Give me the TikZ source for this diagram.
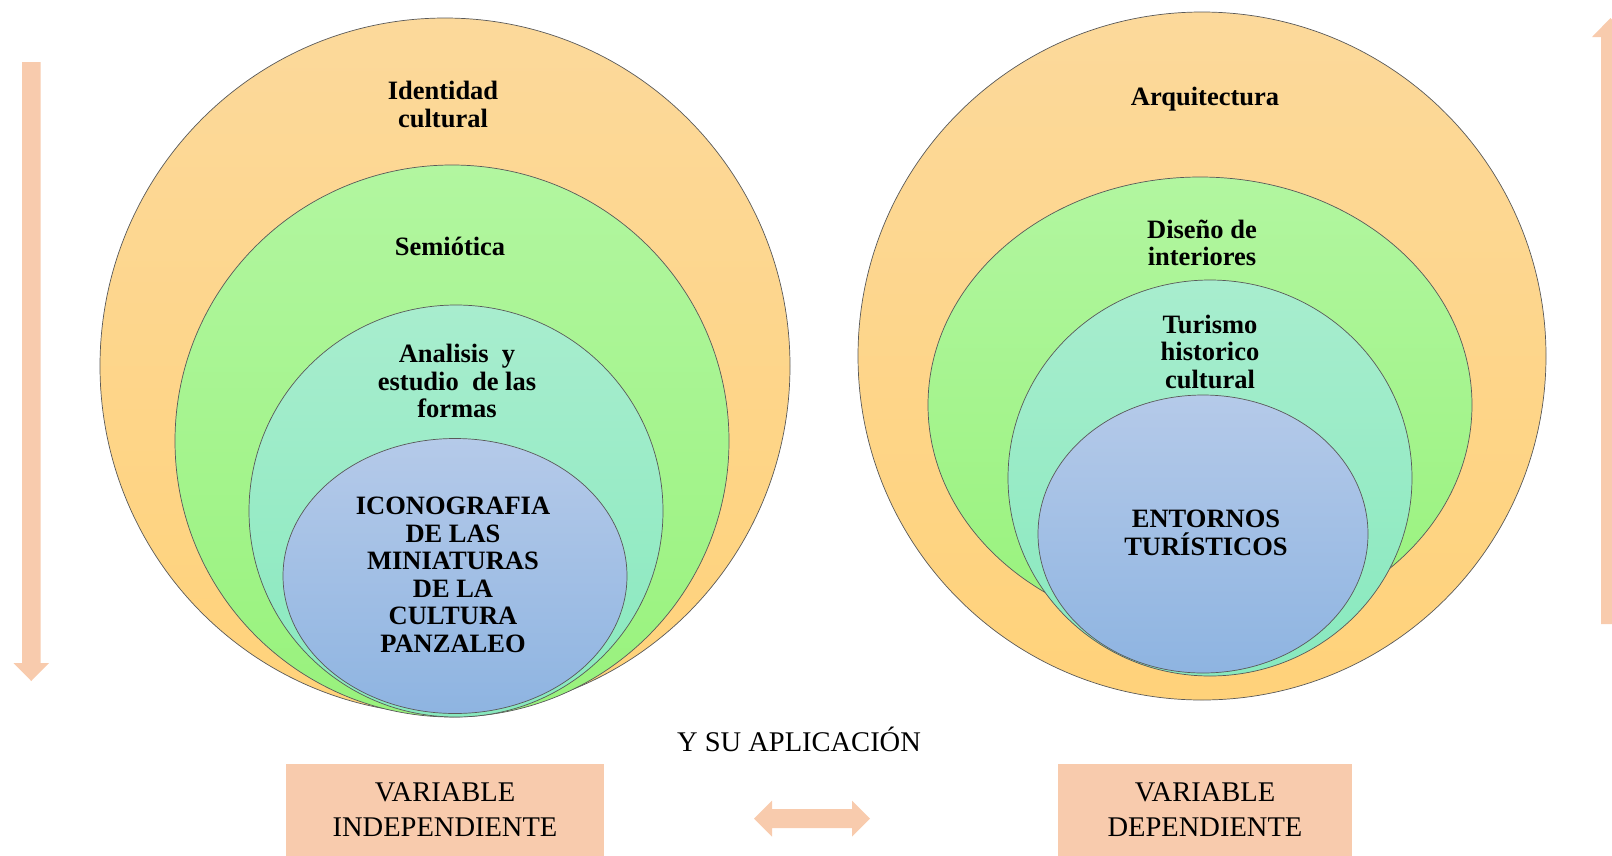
\documentclass[tikz,border=0pt]{standalone}
\usepackage{fontspec}
\setmainfont{Liberation Serif}
\usepackage{xcolor}
\usepackage{tikz}
\definecolor{peach}{HTML}{F8CBAD}
\definecolor{orange_top}{HTML}{FCD99B}
\definecolor{orange_bot}{HTML}{FFD27A}
\definecolor{green_top}{HTML}{B2F6A0}
\definecolor{green_bot}{HTML}{98F27C}
\definecolor{teal_top}{HTML}{A8EDCE}
\definecolor{teal_bot}{HTML}{88E9BE}
\definecolor{blue_top}{HTML}{B5CAE9}
\definecolor{blue_bot}{HTML}{8EB4E1}
\tikzset{
    ring/.style={draw=black!65, line width=0.7pt},
    ringtext/.style={font=\fontsize{26.5}{27.5}\selectfont\bfseries, align=center, inner sep=0pt},
    vartext/.style={font=\fontsize{28.5}{35}\selectfont, align=center, inner sep=0pt},
    varbox/.style={vartext, fill=peach},
}

\begin{document}
\begin{tikzpicture}[
                x=1pt,
                y=-1pt,
                line cap=round,
                line join=round,
            ]
            \useasboundingbox (0,0) rectangle (1612,855);
            \clip (0,0) rectangle (1612,855);

            % Left set of circles
            \draw[ring, top color=orange_top, bottom color=orange_bot] (445,366) ellipse [x radius=345, y radius=348];
            \draw[ring, top color=green_top, bottom color=green_bot] (452,441) ellipse [x radius=277, y radius=276];
            \draw[ring, top color=teal_top, bottom color=teal_bot] (456,511) ellipse [x radius=207, y radius=206];
            \draw[ring, top color=blue_top, bottom color=blue_bot] (455,576) ellipse [x radius=172, y radius=137.5];

            % Right set of circles
            \draw[ring, top color=orange_top, bottom color=orange_bot] (1202,356) ellipse [x radius=344, y radius=344];
            \draw[ring, top color=green_top, bottom color=green_bot] (1200,405) ellipse [x radius=272, y radius=228];
            \draw[ring, top color=teal_top, bottom color=teal_bot] (1210,478) ellipse [x radius=202, y radius=198];
            \draw[ring, top color=blue_top, bottom color=blue_bot] (1203,534) ellipse [x radius=165, y radius=139];

            % Labels of the left circles
            \node[ringtext] (identidad) at (443,104.5) {Identidad\\cultural};
            \node[ringtext, anchor=base] (semiotica) at (450,255) {Semiótica};
            \node[ringtext] (analisis) at (457,381) {Analisis~~y\\estudio~~de las\\formas};
            \node[ringtext] (iconografia) at (453,575) {ICONOGRAFIA\\DE LAS\\MINIATURAS\\DE LA\\CULTURA\\PANZALEO};

            % Labels of the right circles
            \node[ringtext, anchor=base] (arquitectura) at (1205,105) {Arquitectura};
            \node[ringtext] (diseno) at (1202,243) {Diseño de\\interiores};
            \node[ringtext] (turismo) at (1210,351.5) {Turismo\\historico\\cultural};
            \node[ringtext] (entornos) at (1206,533) {ENTORNOS\\TURÍSTICOS};

            % Side arrows
            \fill[peach] (22,62) -- (40.5,62) -- (40.5,663) -- (49,663) -- (31.25,681) -- (13.5,663) -- (22,663) -- cycle;
            \fill[peach] (1601,624) -- (1620,624) -- (1620,37) -- (1629,37) -- (1610.5,18) -- (1592,37) -- (1601,37) -- cycle;

            % Variables
            \node[vartext, anchor=base] (aplicacion) at (799,751) {Y SU APLICACIÓN};
            \node[varbox, minimum width=318pt, minimum height=92pt] (independiente) at (445,810) {VARIABLE\\INDEPENDIENTE};
            \node[varbox, minimum width=294pt, minimum height=92pt] (dependiente) at (1205,810) {VARIABLE\\DEPENDIENTE};
            \fill[peach] (754,818.5) -- (772,800.5) -- (772,809) -- (852,809) -- (852,800.5) -- (870,818.5) -- (852,836.5) -- (852,828) -- (772,828) -- (772,836.5) -- cycle;
        \end{tikzpicture}
\end{document}
